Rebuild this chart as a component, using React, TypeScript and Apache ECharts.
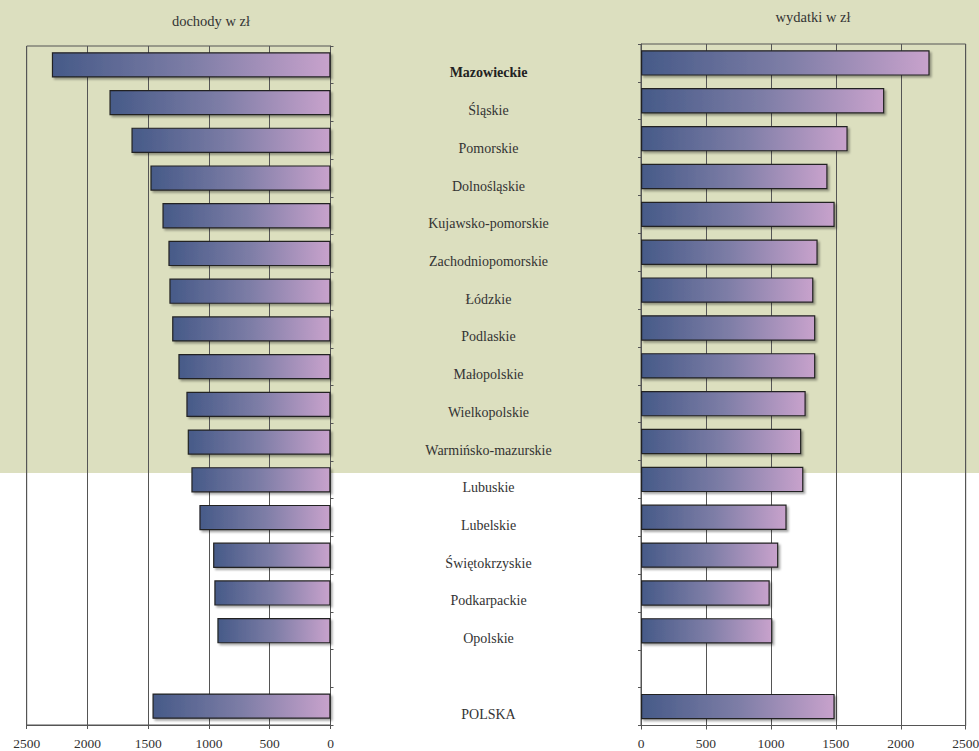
import React, { useEffect, useRef } from "react";
import * as echarts from "echarts";

const categories = [
  "Mazowieckie",
  "Śląskie",
  "Pomorskie",
  "Dolnośląskie",
  "Kujawsko-pomorskie",
  "Zachodniopomorskie",
  "Łódzkie",
  "Podlaskie",
  "Małopolskie",
  "Wielkopolskie",
  "Warmińsko-mazurskie",
  "Lubuskie",
  "Lubelskie",
  "Świętokrzyskie",
  "Podkarpackie",
  "Opolskie",
  "",
  "POLSKA",
];

const income = [2293, 1819, 1638, 1482, 1383, 1334, 1326, 1303, 1252, 1186, 1175, 1145, 1079, 966, 956, 931, null, 1465];
const expenses = [2222, 1873, 1591, 1436, 1491, 1360, 1327, 1342, 1342, 1268, 1234, 1250, 1121, 1057, 991, 1011, null, 1491];

const incomeTitle = "dochody w zł";
const expensesTitle = "wydatki w zł";

const FONT = "Liberation Serif";

export default function App() {
  const ref = useRef<HTMLDivElement>(null);

  useEffect(() => {
    document.body.style.margin = "0";
    if (!ref.current) return;
    const chart = echarts.init(ref.current, undefined, { renderer: "svg" });

    const barGradient = new echarts.graphic.LinearGradient(0, 0, 1, 0, [
      { offset: 0, color: "#465a88" },
      { offset: 0.5, color: "#7d7da6" },
      { offset: 1, color: "#c8a2cc" },
    ]);

    const itemStyle = {
      color: barGradient,
      borderColor: "#222",
      borderWidth: 1.2,
      shadowColor: "rgba(0,0,0,0.35)",
      shadowBlur: 2,
      shadowOffsetX: 2,
      shadowOffsetY: 2,
    };

    const axisLineStyle = { color: "#555", width: 1 };
    const tickFormatter = (v: number) => String(v);

    chart.setOption({
      animation: false,
      backgroundColor: "#ffffff",
      textStyle: { fontFamily: FONT },
      graphic: [
        {
          type: "rect",
          z: -10,
          silent: true,
          shape: { x: 0, y: 0, width: 979, height: 473 },
          style: { fill: "#dcdfbf" },
        },
      ],
      title: [
        {
          text: incomeTitle,
          left: 206,
          top: 8,
          textAlign: "center",
          textStyle: { fontFamily: FONT, fontSize: 14.5, fontWeight: "normal", color: "#333" },
        },
        {
          text: expensesTitle,
          left: 808,
          top: 4,
          textAlign: "center",
          textStyle: { fontFamily: FONT, fontSize: 14.5, fontWeight: "normal", color: "#333" },
        },
      ],
      grid: [
        {
          left: 26.7,
          width: 303.8,
          top: 46,
          height: 679,
          show: true,
          borderColor: "#555",
          borderWidth: 1,
          backgroundColor: "transparent",
          outerBoundsMode: "none",
        },
        {
          left: 641,
          width: 324.7,
          top: 44,
          height: 681.5,
          show: true,
          borderColor: "#555",
          borderWidth: 1,
          backgroundColor: "transparent",
          outerBoundsMode: "none",
        },
      ],
      xAxis: [
        {
          gridIndex: 0,
          type: "value",
          inverse: true,
          min: 0,
          max: 2500,
          interval: 500,
          position: "bottom",
          axisLine: { show: true, lineStyle: axisLineStyle },
          axisTick: { show: true, length: 4, lineStyle: axisLineStyle },
          splitLine: { show: true, lineStyle: { color: "#555", width: 1 } },
          axisLabel: { fontFamily: FONT, fontSize: 13.5, color: "#333", margin: 11, formatter: tickFormatter },
        },
        {
          gridIndex: 1,
          type: "value",
          min: 0,
          max: 2500,
          interval: 500,
          position: "bottom",
          axisLine: { show: true, lineStyle: axisLineStyle },
          axisTick: { show: true, length: 4, lineStyle: axisLineStyle },
          splitLine: { show: true, lineStyle: { color: "#555", width: 1 } },
          axisLabel: { fontFamily: FONT, fontSize: 13.5, color: "#333", margin: 11, formatter: tickFormatter },
        },
      ],
      yAxis: [
        {
          gridIndex: 0,
          type: "category",
          data: categories,
          inverse: true,
          position: "right",
          axisLine: { show: true, lineStyle: axisLineStyle },
          axisTick: { show: true, length: 3, lineStyle: axisLineStyle },
          splitLine: { show: false },
          axisLabel: {
            show: true,
            interval: 0,
            margin: 158,
            align: "center",
            padding: [16, 0, 0, 0],
            color: "#333",
            fontFamily: FONT,
            fontSize: 14,
            formatter: (value: string, index: number) =>
              index === 0 ? "{b|" + value + "}" : "{n|" + value + "}",
            rich: {
              b: { fontFamily: FONT, fontSize: 14, fontWeight: "bold", color: "#222" },
              n: { fontFamily: FONT, fontSize: 14, color: "#333" },
            },
          },
        },
        {
          gridIndex: 1,
          type: "category",
          data: categories,
          inverse: true,
          position: "left",
          axisLine: { show: true, lineStyle: axisLineStyle },
          axisTick: { show: true, length: 3, lineStyle: axisLineStyle },
          splitLine: { show: false },
          axisLabel: { show: false },
        },
      ],
      series: [
        {
          name: incomeTitle,
          type: "bar",
          xAxisIndex: 0,
          yAxisIndex: 0,
          data: income,
          barCategoryGap: "33%",
          itemStyle,
        },
        {
          name: expensesTitle,
          type: "bar",
          xAxisIndex: 1,
          yAxisIndex: 1,
          data: expenses,
          barCategoryGap: "33%",
          itemStyle,
        },
      ],
    });

    return () => {
      chart.dispose();
    };
  }, []);

  return <div ref={ref} style={{ width: 979, height: 751 }} />;
}
